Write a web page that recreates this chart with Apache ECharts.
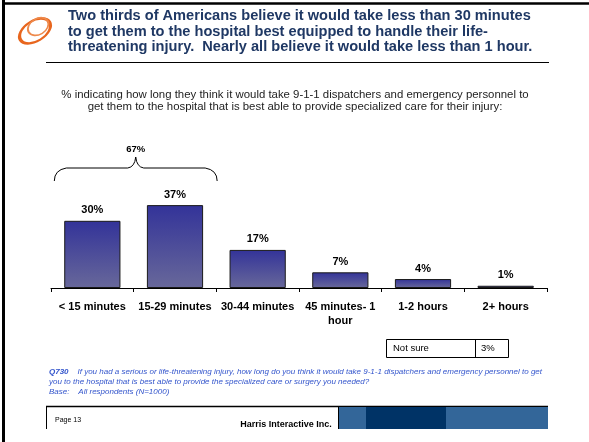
<!DOCTYPE html>
<html>
<head>
<meta charset="utf-8">
<script src="https://cdn.jsdelivr.net/npm/echarts@6/dist/echarts.min.js"></script>
<style>
html,body{margin:0;padding:0;background:#fff;}
#c{width:589px;height:442px;}
</style>
</head>
<body>
<div id="c"></div>
<script>
var categories = ['< 15 minutes', '15-29 minutes', '30-44 minutes', '45 minutes- 1\nhour', '1-2 hours', '2+ hours'];
var values = [30, 37, 17, 7, 4, 1];
var bracketLabel = '67%';
var notSureLabel = 'Not sure';
var notSureValue = 3;
var titleLines = [
  'Two thirds of Americans believe it would take less than 30 minutes',
  'to get them to the hospital best equipped to handle their life-',
  'threatening injury.  Nearly all believe it would take less than 1 hour.'
];
var subtitleText = '% indicating how long they think it would take 9-1-1 dispatchers and emergency personnel to\nget them to the hospital that is best able to provide specialized care for their injury:';

var FONT = 'Liberation Sans, Arial, sans-serif';
var chart = echarts.init(document.getElementById('c'), null, {renderer: 'canvas'});

var option = {
  animation: false,
  backgroundColor: '#fff',
  grid: {left: 51, right: 42, top: 176, bottom: 154, containLabel: false},
  xAxis: {
    type: 'category',
    data: categories,
    axisLine: {lineStyle: {color: '#000', width: 1}},
    axisTick: {show: true, length: 4, lineStyle: {color: '#000'}},
    axisLabel: {color: '#000', fontFamily: FONT, fontSize: 11, fontWeight: 'bold', margin: 12, lineHeight: 14, interval: 0}
  },
  yAxis: {
    type: 'value', min: 0, max: 50, show: false, splitLine: {show: false}
  },
  series: [{
    type: 'bar',
    data: values,
    barCategoryGap: '32%',
    itemStyle: {
      borderColor: '#1a1a1a', borderWidth: 1,
      color: new echarts.graphic.LinearGradient(0, 0, 0, 1, [
        {offset: 0, color: '#333399'},
        {offset: 1, color: '#68689a'}
      ])
    },
    label: {
      show: true, position: 'top', distance: 5,
      formatter: function (p) { return p.value + '%'; },
      color: '#000', fontFamily: FONT, fontSize: 11, fontWeight: 'bold'
    }
  }]
};
chart.setOption(option);

function px(i, v) { return chart.convertToPixel({seriesIndex: 0}, [i, v]); }
var c0 = px(0, 0), c1 = px(1, 0);
var catW = c1[0] - c0[0];
var bx0 = c0[0] - catW * 0.46, bx1 = c1[0] + catW * 0.51;
var bmid = (bx0 + bx1) / 2;
var by = 168, bend = 181, btop = 157;

var elements = [];
// page border
elements.push({type: 'line', shape: {x1: 3.5, y1: 0, x2: 3.5, y2: 442}, style: {stroke: '#000', lineWidth: 3}});
elements.push({type: 'line', shape: {x1: 2, y1: 3.5, x2: 589, y2: 3.5}, style: {stroke: '#000', lineWidth: 2.5}});
// logo
elements.push({type: 'group', x: 35, y: 31, rotation: 0.55, children: [
  {type: 'circle', shape: {cx: 0, cy: 0, r: 17}, scaleY: 0.6, style: {fill: 'none', stroke: '#e8661e', lineWidth: 3.5}},
  {type: 'circle', shape: {cx: 5, cy: -3, r: 11}, scaleY: 0.72, style: {fill: 'none', stroke: '#ee8a4c', lineWidth: 2}}
]});
// title
for (var i = 0; i < titleLines.length; i++) {
  elements.push({type: 'text', x: 68, y: 16 + i * 15.5, style: {text: titleLines[i], fill: '#1f3864', font: 'bold 14.6px ' + FONT, textVerticalAlign: 'middle'}});
}
elements.push({type: 'line', shape: {x1: 46, y1: 62.5, x2: 549, y2: 62.5}, style: {stroke: '#000', lineWidth: 1.2}});
// subtitle
elements.push({type: 'text', x: 295, y: 101, style: {text: subtitleText, fill: '#222', font: '11.4px ' + FONT, textAlign: 'center', textVerticalAlign: 'middle', lineHeight: 11.5}});
// bracket
var bs = {stroke: '#000', lineWidth: 1, fill: 'none'};
elements.push({type: 'bezierCurve', shape: {x1: bx0, y1: bend, x2: bx0 + 12, y2: by, cpx1: bx0, cpy1: by + 2}, style: bs});
elements.push({type: 'line', shape: {x1: bx0 + 12, y1: by, x2: bmid - 8, y2: by}, style: bs});
elements.push({type: 'bezierCurve', shape: {x1: bmid - 8, y1: by, x2: bmid, y2: btop, cpx1: bmid - 1, cpy1: by - 1}, style: bs});
elements.push({type: 'bezierCurve', shape: {x1: bmid + 8, y1: by, x2: bmid, y2: btop, cpx1: bmid + 1, cpy1: by - 1}, style: bs});
elements.push({type: 'line', shape: {x1: bmid + 8, y1: by, x2: bx1 - 12, y2: by}, style: bs});
elements.push({type: 'bezierCurve', shape: {x1: bx1, y1: bend, x2: bx1 - 12, y2: by, cpx1: bx1, cpy1: by + 2}, style: bs});
elements.push({type: 'text', x: bmid, y: 149, style: {text: bracketLabel, fill: '#000', font: 'bold 9.5px ' + FONT, textAlign: 'center', textVerticalAlign: 'middle'}});
// not sure box
elements.push({type: 'rect', shape: {x: 386.5, y: 339.5, width: 122, height: 18}, style: {fill: '#fff', stroke: '#000', lineWidth: 1}});
elements.push({type: 'line', shape: {x1: 475.5, y1: 339.5, x2: 475.5, y2: 357.5}, style: {stroke: '#000', lineWidth: 1}});
elements.push({type: 'text', x: 393, y: 348.5, style: {text: notSureLabel, fill: '#000', font: '9.5px ' + FONT, textVerticalAlign: 'middle'}});
elements.push({type: 'text', x: 481, y: 348.5, style: {text: notSureValue + '%', fill: '#000', font: '9.5px ' + FONT, textVerticalAlign: 'middle'}});
// footnote
elements.push({type: 'text', x: 49, y: 382, style: {
  text: '{q|Q730}    If you had a serious or life-threatening injury, how long do you think it would take 9-1-1 dispatchers and emergency personnel to get\nyou to the hospital that is best able to provide the specialized care or surgery you needed?\nBase:    All respondents (N=1000)',
  fill: '#3355cc', font: 'italic 8px ' + FONT, lineHeight: 10, textVerticalAlign: 'middle',
  rich: {q: {fontWeight: 'bold', fontStyle: 'italic', fontSize: 8, fontFamily: FONT, fill: '#3355cc'}}
}});
// footer
elements.push({type: 'line', shape: {x1: 46, y1: 406.5, x2: 548, y2: 406.5}, style: {stroke: '#000', lineWidth: 1.5}});
elements.push({type: 'line', shape: {x1: 46.5, y1: 406, x2: 46.5, y2: 429}, style: {stroke: '#000', lineWidth: 1}});
elements.push({type: 'rect', shape: {x: 339, y: 407, width: 209, height: 22}, style: {fill: '#336699'}});
elements.push({type: 'rect', shape: {x: 366, y: 407, width: 80, height: 22}, style: {fill: '#003366'}});
elements.push({type: 'line', shape: {x1: 338.5, y1: 407, x2: 338.5, y2: 429}, style: {stroke: '#000', lineWidth: 1}});
elements.push({type: 'text', x: 55, y: 420, style: {text: 'Page 13', fill: '#000', font: '7px ' + FONT, textVerticalAlign: 'middle'}});
elements.push({type: 'text', x: 286, y: 425, style: {text: 'Harris Interactive Inc.', fill: '#000', font: 'bold 9px ' + FONT, textAlign: 'center', textVerticalAlign: 'middle'}});

chart.setOption({graphic: {elements: elements}});
</script>
</body>
</html>
